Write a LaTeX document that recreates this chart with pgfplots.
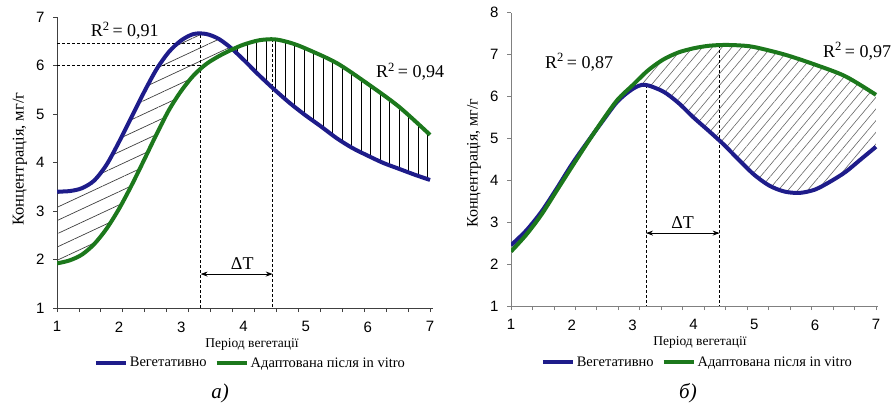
\documentclass[border=0pt]{standalone}
\usepackage{fontspec}
\setmainfont{Liberation Serif}
\newfontfamily\sansf{Liberation Sans}
\usepackage{pgfplots}
\pgfplotsset{compat=1.18}
\usepgfplotslibrary{fillbetween}
\usetikzlibrary{patterns.meta, arrows.meta}

\definecolor{cblue}{RGB}{30,28,138}
\definecolor{cgreen}{RGB}{28,120,28}

\pgfplotsset{
  panel/.style={
    scale only axis,
    axis lines*=left,
    set layers,
    clip mode=individual,
    no markers,
    xmin=1, ymin=1,
    xtick={1,...,7},
    minor xtick={1,1.3529,1.7059,2.0588,2.4118,2.7647,3.1176,3.4706,3.8235,
                 4.1765,4.5294,4.8824,5.2353,5.5882,5.9412,6.2941,6.6471,7},
    major x tick style={draw=none},
    tick align=outside,
    major tick length=4pt, minor tick length=4pt,
    ticklabel style={font=\sansf\fontsize{15}{15}\selectfont},
    xticklabel style={yshift=-6pt},
    yticklabel style={xshift=-5pt},
    /pgf/number format/assume math mode=true,
    legend image code/.code={\draw[#1, line width=4pt] (0pt,0pt) -- (30pt,0pt);},
    legend style={draw=none, fill=none, legend columns=2, anchor=center,
      font=\fontsize{14.5}{16}\selectfont,
      /tikz/every even column/.append style={column sep=6pt}},
  },
  dline/.style={forget plot, black, line width=0.8pt, dash pattern=on 3pt off 2pt},
  curve/.style={smooth, line width=4pt},
}

\begin{document}
\begin{tikzpicture}

% ---------- а) ----------
\begin{axis}[panel,
  at={(57pt,96pt)}, anchor=south west,
  width=375.5pt, height=291pt,
  xmax=7.04, ymax=7, ytick={1,...,7},
  axis line style={black!75, line width=0.9pt},
  tick style={black!75, line width=0.8pt},
  legend style={at={(0.515,-0.189)}},
]
\addplot[dline] coordinates {(1,6.45) (3.31,6.45)};
\addplot[dline] coordinates {(1,6.0) (3.40,6.0)};
\addplot[dline] coordinates {(3.31,6.62) (3.31,1)};
\addplot[dline] coordinates {(4.47,6.54) (4.47,1)};

\addplot[name path=b1, cblue, curve] coordinates {
  (1.0,3.40) (1.2,3.41) (1.4,3.47) (1.6,3.63) (1.8,3.96) (2.0,4.43)
  (2.2,4.94) (2.4,5.45) (2.6,5.92) (2.8,6.28) (3.0,6.52) (3.2,6.65)
  (3.4,6.65) (3.6,6.55) (3.8,6.36) (4.0,6.12) (4.25,5.80) (4.5,5.50)
  (4.75,5.22) (5.0,4.97) (5.25,4.74) (5.5,4.50) (5.75,4.30) (6.0,4.14)
  (6.25,3.99) (6.5,3.87) (6.75,3.75) (7.0,3.64)
};
\addlegendentry{Вегетативно}
\addplot[name path=g1, cgreen, curve] coordinates {
  (1.0,1.92) (1.2,1.98) (1.4,2.10) (1.6,2.32) (1.8,2.64) (2.0,3.05)
  (2.2,3.53) (2.4,4.05) (2.6,4.58) (2.8,5.08) (3.0,5.48) (3.2,5.80)
  (3.4,6.03) (3.6,6.19) (3.8,6.32) (4.0,6.43) (4.25,6.52) (4.5,6.54)
  (4.75,6.47) (5.0,6.35) (5.5,6.05) (6.0,5.62) (6.5,5.15) (7.0,4.57)
};
\addlegendentry{Адаптована після in vitro}

\addplot[forget plot, draw=none, on layer=axis background,
  pattern={Lines[angle=25, distance=12pt, line width=0.7pt]}, pattern color=black!75]
  fill between[of=b1 and g1, soft clip={domain=1:3.82}];
\addplot[forget plot, draw=none, on layer=axis background,
  pattern={Lines[angle=90, distance=9.5pt, line width=0.7pt]}, pattern color=black]
  fill between[of=b1 and g1, soft clip={domain=3.82:7}];

\draw[{Stealth[length=7pt,width=5pt]}-{Stealth[length=7pt,width=5pt]}, line width=0.9pt]
  (axis cs:3.31,1.70) -- (axis cs:4.47,1.70);
\node[anchor=base, font=\fontsize{18}{18}\selectfont] at (axis cs:3.98,1.80) {ΔT};
\node[anchor=base, font=\fontsize{18}{18}\selectfont] at (axis cs:2.09,6.60) {R\textsuperscript{2}\,= 0,91};
\node[anchor=base, font=\fontsize{18}{18}\selectfont] at (axis cs:6.68,5.75) {R\textsuperscript{2}\,= 0,94};
\end{axis}

% ---------- б) ----------
\begin{axis}[panel,
  at={(511pt,98pt)}, anchor=south west,
  width=366.8pt, height=293.3pt,
  xmax=7.03, ymax=8, ytick={1,...,8},
  axis line style={black!50, line width=0.9pt},
  tick style={black!50, line width=0.8pt},
  legend style={at={(0.508,-0.191)}},
]
\addplot[dline] coordinates {(3.22,6.28) (3.22,1)};
\addplot[dline] coordinates {(4.43,7.22) (4.43,1)};

\addplot[name path=b2, cblue, curve] coordinates {
  (1.0,2.45) (1.25,2.80) (1.5,3.25) (1.75,3.80) (2.0,4.38) (2.25,4.90)
  (2.5,5.40) (2.75,5.88) (3.0,6.18) (3.2,6.28) (3.5,6.12) (3.75,5.85)
  (4.0,5.50) (4.25,5.18) (4.5,4.85) (4.75,4.48) (5.0,4.13) (5.25,3.87)
  (5.5,3.73) (5.75,3.70) (6.0,3.78) (6.25,3.97) (6.5,4.20) (6.75,4.50)
  (7.0,4.80)
};
\addlegendentry{Вегетативно}
\addplot[name path=g2, cgreen, curve] coordinates {
  (1.0,2.30) (1.25,2.70) (1.5,3.18) (1.75,3.75) (2.0,4.32) (2.25,4.88)
  (2.5,5.42) (2.75,5.92) (3.0,6.27) (3.25,6.62) (3.5,6.88) (3.75,7.05)
  (4.0,7.15) (4.25,7.21) (4.5,7.23) (4.75,7.22) (5.0,7.18) (5.5,7.00)
  (6.0,6.76) (6.5,6.48) (7.0,6.04)
};
\addlegendentry{Адаптована після in vitro}

\addplot[forget plot, draw=none, on layer=axis background,
  pattern={Lines[angle=50, distance=7.5pt, line width=0.6pt]}, pattern color=black!60]
  fill between[of=g2 and b2, soft clip={domain=2.95:7}];

\draw[{Stealth[length=7pt,width=5pt]}-{Stealth[length=7pt,width=5pt]}, line width=0.9pt]
  (axis cs:3.22,2.74) -- (axis cs:4.43,2.74);
\node[anchor=base, font=\fontsize{18}{18}\selectfont] at (axis cs:3.82,2.84) {ΔT};
\node[anchor=base, font=\fontsize{18}{18}\selectfont] at (axis cs:2.12,6.68) {R\textsuperscript{2}\,= 0,87};
\node[anchor=base, font=\fontsize{18}{18}\selectfont] at (axis cs:6.69,6.94) {R\textsuperscript{2}\,= 0,97};
\end{axis}

% axis titles and captions
\node[rotate=90, font=\fontsize{16.5}{18}\selectfont] at (20pt,245pt) {Концентрація, мг/г};
\node[rotate=90, font=\fontsize{16}{18}\selectfont] at (474pt,241pt) {Концентрація, мг/г};
\node[font=\fontsize{13.5}{14}\selectfont] at (252pt,60pt) {Період вегетації};
\node[font=\fontsize{13.5}{14}\selectfont] at (700pt,62pt) {Період вегетації};
\node[font=\itshape\fontsize{21}{22}\selectfont] at (220pt,11pt) {а)};
\node[font=\itshape\fontsize{21}{22}\selectfont] at (688pt,11pt) {б)};
\path (0,0) rectangle (895pt,404pt);
\end{tikzpicture}
\end{document}
